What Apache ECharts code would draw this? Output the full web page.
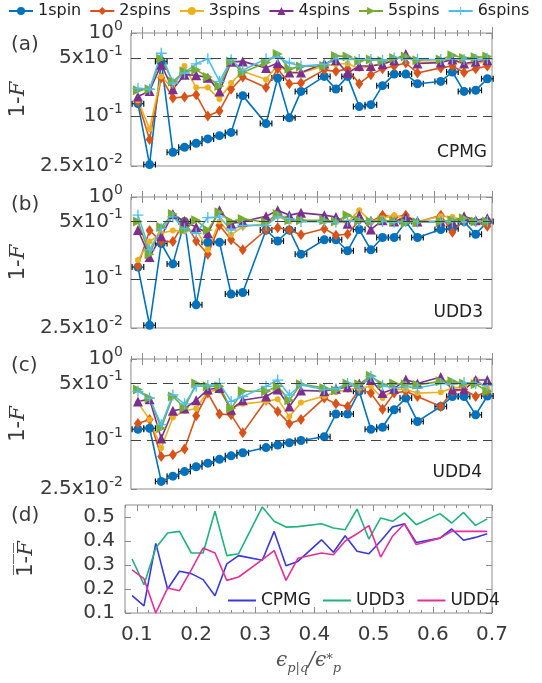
<!DOCTYPE html>
<html><head><meta charset="utf-8">
<script src="https://cdn.jsdelivr.net/npm/echarts@6/dist/echarts.min.js"></script>
<style>html,body{margin:0;padding:0;background:#fff}#c{width:542px;height:683px}</style>
</head><body><div id="c"></div>
<script>
// ---------------- data ----------------
const xVals = [0.092,0.112,0.132,0.152,0.172,0.192,0.212,0.232,0.252,0.272,0.312,0.332,0.352,0.372,0.412,0.432,0.452,0.472,0.492,0.512,0.532,0.552,0.572,0.612,0.632,0.652,0.672,0.692];
const seriesNames = ['1spin','2spins','3spins','4spins','5spins','6spins'];

const cpmg1 = [0.141,0.026,0.455,0.0365,0.042,0.047,0.053,0.058,0.0635,0.176,0.081,0.287,0.095,0.198,0.30,0.211,0.30,0.13,0.137,0.232,0.32,0.32,0.245,0.261,0.339,0.198,0.204,0.281];
const cpmg2 = [0.15,0.052,0.29,0.165,0.17,0.18,0.10,0.115,0.21,0.295,0.22,0.37,0.245,0.25,0.36,0.345,0.37,0.245,0.315,0.37,0.40,0.435,0.33,0.38,0.40,0.335,0.37,0.40];
const cpmg3 = [0.155,0.07,0.30,0.215,0.40,0.22,0.22,0.16,0.25,0.345,0.275,0.415,0.33,0.33,0.40,0.42,0.43,0.37,0.40,0.43,0.48,0.52,0.44,0.45,0.47,0.42,0.43,0.45];
const cpmg4 = [0.172,0.2,0.415,0.21,0.315,0.31,0.29,0.198,0.45,0.455,0.38,0.435,0.335,0.335,0.43,0.47,0.33,0.40,0.40,0.42,0.47,0.56,0.43,0.44,0.48,0.43,0.45,0.47];
const cpmg5 = [0.205,0.21,0.49,0.26,0.345,0.36,0.295,0.23,0.455,0.335,0.44,0.56,0.37,0.395,0.40,0.53,0.52,0.46,0.48,0.46,0.50,0.52,0.47,0.48,0.54,0.50,0.51,0.52];
const cpmg6 = [0.215,0.21,0.57,0.25,0.33,0.425,0.49,0.262,0.475,0.355,0.49,0.51,0.435,0.40,0.42,0.49,0.48,0.48,0.48,0.47,0.50,0.49,0.48,0.48,0.49,0.48,0.48,0.49];

const udd3_1 = [0.139,0.027,0.27,0.152,0.5,0.048,0.28,0.28,0.065,0.068,0.395,0.29,0.395,0.2,0.30,0.30,0.22,0.40,0.226,0.32,0.32,0.5,0.32,0.40,0.41,0.5,0.35,0.5];
const udd3_2 = [0.143,0.39,0.285,0.285,0.5,0.29,0.2,0.45,0.30,0.226,0.395,0.42,0.395,0.345,0.41,0.34,0.35,0.52,0.50,0.60,0.56,0.60,0.49,0.60,0.37,0.52,0.50,0.44];
const udd3_3 = [0.17,0.285,0.36,0.39,0.38,0.40,0.226,0.5,0.345,0.433,0.475,0.58,0.5,0.52,0.5,0.49,0.49,0.69,0.5,0.55,0.60,0.55,0.5,0.58,0.57,0.52,0.49,0.52];
const udd3_4 = [0.395,0.185,0.33,0.62,0.5,0.43,0.36,0.69,0.475,0.5,0.58,0.69,0.6,0.64,0.6,0.57,0.47,0.6,0.40,0.52,0.5,0.57,0.5,0.5,0.5,0.58,0.52,0.55];
const udd3_5 = [0.5,0.2,0.43,0.62,0.395,0.52,0.395,0.65,0.5,0.54,0.49,0.62,0.52,0.52,0.52,0.5,0.6,0.52,0.5,0.52,0.5,0.48,0.49,0.5,0.52,0.55,0.5,0.5];
const udd3_6 = [0.6,0.226,0.41,0.57,0.41,0.36,0.56,0.57,0.395,0.45,0.45,0.57,0.54,0.5,0.5,0.49,0.51,0.5,0.5,0.5,0.49,0.5,0.5,0.5,0.5,0.5,0.5,0.5];

const udd4_1 = [0.136,0.14,0.031,0.036,0.041,0.047,0.052,0.058,0.064,0.07,0.081,0.087,0.093,0.099,0.11,0.21,0.21,0.40,0.136,0.144,0.237,0.33,0.17,0.26,0.345,0.345,0.205,0.35];
const udd4_2 = [0.16,0.18,0.063,0.066,0.078,0.2,0.38,0.21,0.205,0.123,0.31,0.225,0.16,0.18,0.33,0.28,0.26,0.42,0.38,0.24,0.38,0.40,0.345,0.26,0.40,0.42,0.345,0.40];
const udd4_3 = [0.29,0.18,0.08,0.19,0.23,0.245,0.40,0.41,0.245,0.28,0.30,0.32,0.195,0.29,0.35,0.39,0.42,0.44,0.46,0.33,0.42,0.42,0.38,0.39,0.44,0.46,0.56,0.43];
const udd4_4 = [0.30,0.32,0.105,0.23,0.245,0.31,0.42,0.44,0.237,0.31,0.345,0.42,0.26,0.41,0.40,0.43,0.45,0.50,0.55,0.38,0.43,0.56,0.50,0.60,0.42,0.42,0.55,0.55];
const udd4_5 = [0.42,0.33,0.14,0.345,0.25,0.5,0.46,0.46,0.245,0.40,0.40,0.46,0.31,0.49,0.44,0.41,0.5,0.49,0.62,0.48,0.5,0.49,0.48,0.53,0.53,0.5,0.49,0.40];
const udd4_6 = [0.40,0.33,0.155,0.36,0.28,0.46,0.47,0.5,0.30,0.345,0.46,0.55,0.36,0.48,0.42,0.43,0.5,0.44,0.61,0.47,0.44,0.46,0.44,0.5,0.49,0.51,0.5,0.47];

const meanCPMG = [0.172,0.13,0.39,0.2,0.274,0.264,0.239,0.172,0.305,0.339,0.32,0.44,0.297,0.315,0.405,0.353,0.422,0.357,0.347,0.40,0.458,0.472,0.394,0.412,0.45,0.403,0.415,0.43];
const meanUDD3 = [0.325,0.218,0.371,0.433,0.44,0.35,0.35,0.524,0.339,0.347,0.542,0.482,0.458,0.46,0.472,0.454,0.447,0.533,0.408,0.496,0.482,0.517,0.468,0.514,0.475,0.519,0.465,0.492];
const meanUDD4 = [0.28,0.243,0.1,0.204,0.193,0.28,0.371,0.35,0.236,0.25,0.322,0.36,0.236,0.328,0.35,0.343,0.40,0.43,0.464,0.333,0.42,0.472,0.385,0.412,0.44,0.44,0.44,0.44];

const xErr = 0.01;
const xMajor = [0.1,0.2,0.3,0.4,0.5,0.6,0.7];
const xMinor = [0.08,0.12,0.14,0.16,0.18,0.22,0.24,0.26,0.28,0.32,0.34,0.36,0.38,0.42,0.44,0.46,0.48,0.52,0.54,0.56,0.58,0.62,0.64,0.66,0.68];
const logTickVals = [0.025,0.1,0.5,1];
const logTickBase = ['2.5x10','10','5x10','10'];
const logTickExp = ['-2','-1','-1','0'];
const meanTicks = [0.1,0.2,0.3,0.4,0.5];
const dashedLevels = [0.5,0.1];
const panelLabels = ['(a)','(b)','(c)','(d)'];
const schemeLabels = ['CPMG','UDD3','UDD4'];

// ---------------- style ----------------
const TXT = '#3a3a3a', AX = '#8c8c8c', FF = 'DejaVu Sans';
const colors = ['#0072BD','#D95319','#EDB120','#7E2F8E','#77AC30','#4DBEEE'];
const meanColors = ['#3838e0','#1fb37a','#e2309a'];
const symbols = ['circle','diamond','circle','triangle','path://M0,0L10,5L0,10Z','path://M4.4,0H5.6V4.4H10V5.6H5.6V10H4.4V5.6H0V4.4H4.4Z'];
const symSizes = [9,[8,11],6,10,10,11];

const panels = [
  [cpmg1,cpmg2,cpmg3,cpmg4,cpmg5,cpmg6],
  [udd3_1,udd3_2,udd3_3,udd3_4,udd3_5,udd3_6],
  [udd4_1,udd4_2,udd4_3,udd4_4,udd4_5,udd4_6]
];
const gridsPos = [
  {top:33,height:133},{top:197,height:131},{top:359,height:130},{top:505,height:108}
];

const zip = (xs, ys) => xs.map((x,i) => [x, ys[i]]);

const grid = gridsPos.map(p => ({left:121, right:50, top:p.top, height:p.height, show:true, borderColor:AX, borderWidth:1, backgroundColor:'transparent'}));

const xAxis = [];
gridsPos.forEach((p,g) => {
  const base = {type:'value', gridIndex:g, min:0.08, max:0.7, splitLine:{show:false}, axisLine:{show:false}};
  const main = Object.assign({}, base, {
    position:'bottom',
    axisTick:{inside:true, length:6, customValues:xMajor, lineStyle:{color:AX}},
    axisLabel:{show:g===3, customValues:xMajor, margin:12, fontSize:20, color:TXT, fontFamily:FF}
  });
  if (g === 3) {
    Object.assign(main, {
      name:'{e|\u03F5}{sb|p|q}{e|/\u03F5}{sp|*}{sb|p}', nameLocation:'middle', nameGap:40,
      nameTextStyle:{color:'#555', rich:{
        e:{fontFamily:'DejaVu Serif', fontStyle:'italic', fontSize:20, color:'#555', verticalAlign:'bottom', lineHeight:22, padding:[0,0,4,0]},
        sb:{fontFamily:'DejaVu Serif', fontStyle:'italic', fontSize:13, color:'#555', verticalAlign:'bottom', lineHeight:14},
        sp:{fontFamily:'DejaVu Serif', fontSize:13, color:'#555', verticalAlign:'top', lineHeight:14}
      }}
    });
  }
  xAxis.push(main);
  xAxis.push(Object.assign({}, base, {position:'bottom', axisTick:{inside:true,length:3,customValues:xMinor,lineStyle:{color:AX}}, axisLabel:{show:false}}));
  xAxis.push(Object.assign({}, base, {position:'top', axisTick:{inside:true,length:6,customValues:xMajor,lineStyle:{color:AX}}, axisLabel:{show:false}}));
  xAxis.push(Object.assign({}, base, {position:'top', axisTick:{inside:true,length:3,customValues:xMinor,lineStyle:{color:AX}}, axisLabel:{show:false}}));
});

const supRich = {
  b:{fontSize:20, fontFamily:FF, color:TXT, lineHeight:20, verticalAlign:'bottom'},
  s:{fontSize:14, fontFamily:FF, color:TXT, lineHeight:14, verticalAlign:'bottom', padding:[0,0,10,0]}
};
const nameRich = {
  n:{fontSize:21, fontFamily:FF, color:TXT},
  i:{fontSize:21, fontFamily:'DejaVu Serif', fontStyle:'italic', color:TXT},
  o:{fontSize:11, fontFamily:FF, color:TXT, lineHeight:5}
};

const yAxis = [];
const logPos = logTickVals.map(v => Math.log10(v));
const lmin = logPos[0], lmax = logPos[logPos.length-1];
for (let g = 0; g < 3; g++) {
  yAxis.push({type:'log', gridIndex:g, min:logTickVals[0], max:logTickVals[logTickVals.length-1], show:false});
  yAxis.push({type:'value', gridIndex:g, position:'left', min:lmin, max:lmax,
    axisLine:{show:false}, splitLine:{show:false},
    axisTick:{inside:true, length:6, customValues:logPos, lineStyle:{color:AX}},
    axisLabel:{customValues:logPos, margin:8, rich:supRich, formatter: v => {
      let k = 0, best = 1e9;
      logPos.forEach((p,i) => { const d = Math.abs(p - v); if (d < best) { best = d; k = i; } });
      return '{b|' + logTickBase[k] + '}{s|' + logTickExp[k] + '}';
    }},
    name:'{n|1-}{i|F}', nameLocation:'middle', nameRotate:90, nameGap:88, nameTextStyle:{rich:nameRich}
  });
  yAxis.push({type:'value', gridIndex:g, position:'right', min:lmin, max:lmax,
    axisLine:{show:false}, splitLine:{show:false},
    axisTick:{inside:true, length:6, customValues:logPos, lineStyle:{color:AX}}, axisLabel:{show:false}});
}
yAxis.push({type:'value', gridIndex:3, position:'left', min:0.1, max:0.55,
  axisLine:{show:false}, splitLine:{show:false},
  axisTick:{inside:true, length:6, customValues:meanTicks, lineStyle:{color:AX}},
  axisLabel:{customValues:meanTicks, margin:10, fontSize:20, color:TXT, fontFamily:FF},
  name:'{o|\u2014\u2014\u2014}\n{n|1-}{i|F}', nameLocation:'middle', nameRotate:90, nameGap:88, nameTextStyle:{rich:nameRich}
});
yAxis.push({type:'value', gridIndex:3, position:'right', min:0.1, max:0.55,
  axisLine:{show:false}, splitLine:{show:false},
  axisTick:{inside:true, length:6, customValues:meanTicks, lineStyle:{color:AX}}, axisLabel:{show:false}});

const series = [];
panels.forEach((pdata, g) => {
  pdata.forEach((ys, s) => {
    const ser = {
      type:'line', name:seriesNames[s], xAxisIndex:4*g, yAxisIndex:3*g,
      data: zip(xVals, ys), symbol:symbols[s], symbolSize:symSizes[s], showSymbol:true,
      lineStyle:{color:colors[s], width:1.6}, itemStyle:{color:colors[s]},
      emphasis:{disabled:true}, animation:false, clip:false
    };
    if (s === 0) {
      ser.markLine = {silent:true, symbol:'none', label:{show:false}, animation:false,
        lineStyle:{type:[10,6], color:'#444', width:1},
        data: dashedLevels.map(v => ({yAxis:v}))};
    }
    series.push(ser);
    if (s === 0) {
      series.push({
        type:'custom', name:'xerr', xAxisIndex:4*g, yAxisIndex:3*g, data: zip(xVals, ys), animation:false, silent:true,
        renderItem:(params, api) => {
          const x = api.value(0), y = api.value(1);
          const a = api.coord([x - xErr, y]), b = api.coord([x + xErr, y]);
          const st = {stroke:'#111', lineWidth:1.2};
          return {type:'group', children:[
            {type:'line', shape:{x1:a[0],y1:a[1],x2:b[0],y2:b[1]}, style:st},
            {type:'line', shape:{x1:a[0],y1:a[1]-3,x2:a[0],y2:a[1]+3}, style:st},
            {type:'line', shape:{x1:b[0],y1:b[1]-3,x2:b[0],y2:b[1]+3}, style:st}
          ]};
        }
      });
    }
  });
});
[meanCPMG, meanUDD3, meanUDD4].forEach((ys, i) => {
  series.push({type:'line', name:schemeLabels[i], xAxisIndex:12, yAxisIndex:9, data:zip(xVals, ys),
    symbol:'none', lineStyle:{color:meanColors[i], width:1.6}, itemStyle:{color:meanColors[i]},
    emphasis:{disabled:true}, animation:false});
});

const titleStyle = {fontSize:20, fontWeight:'normal', color:TXT, fontFamily:FF};
const schemeStyle = {fontSize:17, fontWeight:'normal', color:'#222', fontFamily:FF};
const title = [
  {text:panelLabels[0], left:11, top:35, padding:0, textStyle:titleStyle},
  {text:panelLabels[1], left:11, top:195, padding:0, textStyle:titleStyle},
  {text:panelLabels[2], left:11, top:356, padding:0, textStyle:titleStyle},
  {text:panelLabels[3], left:11, top:506, padding:0, textStyle:titleStyle},
  {text:schemeLabels[0], right:55, top:144, padding:0, textStyle:schemeStyle},
  {text:schemeLabels[1], right:59, top:304, padding:0, textStyle:schemeStyle},
  {text:schemeLabels[2], right:60, top:464, padding:0, textStyle:schemeStyle}
];

const legend = [
  {data:seriesNames, left:8, top:3, padding:0, itemWidth:24, itemHeight:10, itemGap:8,
   textStyle:{fontSize:16, color:'#222', fontFamily:FF}, selectedMode:false},
  {data:schemeLabels, left:228, top:592, padding:0, icon:'rect', itemWidth:28, itemHeight:2, itemGap:12,
   textStyle:{fontSize:17, color:'#222', fontFamily:FF}, selectedMode:false}
];

const chart = echarts.init(document.getElementById('c'), null, {renderer:'canvas', width:542, height:683});
chart.setOption({animation:false, backgroundColor:'#fff', title, legend, grid, xAxis, yAxis, series});
</script>
</body></html>
